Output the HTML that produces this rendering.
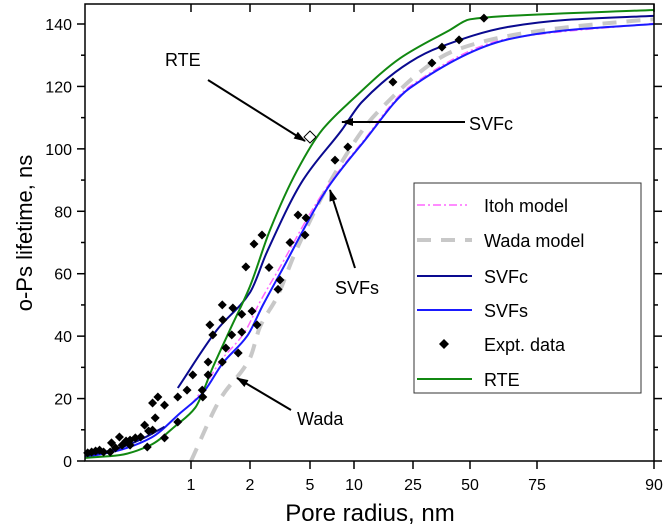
<!DOCTYPE html>
<html><head><meta charset="utf-8"><style>
html,body{margin:0;padding:0;background:#fff}
svg{display:block;font-family:"Liberation Sans",Arial,sans-serif}
</style></head><body>
<svg id="c" width="665" height="528" viewBox="0 0 665 528"></svg>
<script>
const xTickVals=[1,2,5,10,25,50,75,90];
const xTickLabels=["1","2","5","10","25","50","75","90"];
const yTickVals=[0,20,40,60,80,100,120,140];
const rteR=[0.2,0.46,0.69,0.89,1.07,1.37,1.66,2,3,4.35,6.36,9.9,21.7,41,50,62,90];
const rteT=[1,1.9,5,11.5,17,30,42,56,74,93,106,116,129,138,141.5,142.5,144.5];
const svfcR=[0.9,1.44,2,2.85,4.65,8.6,12,24.2,36.8,63.8,78.8,90];
const svfcT=[23.4,42,54,67,90,106,115,127.8,132.6,139,141.3,142.6];
const svfcLowR=[0.2,0.45,0.65,0.8];
const svfcLowT=[1.5,4,7.5,11];
const svfsR=[0.2,0.46,0.7,0.92,1.2,1.54,1.95,2.65,3.5,6.9,12.3,24.2,63.8,78.8,90];
const svfsT=[1.2,3.5,7.5,15.4,21.8,31.4,40,50,60,87,102,119.5,135,138,140];
const itohR=[1,1.2,1.5,1.9,2.5,3.4,6.5,12,24.2,63.8,90];
const itohT=[18,23,32,41,51,61,86,102,120,135.2,140.2];
const wadaR=[1,1.5,2,2.5,3.35,4.25,7.6,15.8,44,73.5,87.3,90];
const wadaT=[0,20,33,43,52.5,66.6,91,111.5,131.7,137.5,141,141.5];
const exR=[0.22,0.25,0.28,0.31,0.34,0.39,0.40,0.43,0.46,0.48,0.51,0.54,0.54,0.58,0.62,0.65,0.67,0.68,0.71,0.71,0.73,0.75,0.80,0.80,0.90,0.90,0.97,1.03,1.19,1.20,1.29,1.29,1.32,1.37,1.53,1.54,1.53,1.59,1.69,1.71,1.80,1.86,1.86,1.93,2.2,2.1,2.35,2.6,2.95,3.4,3.5,4.0,4.4,4.8,4.75,7.84,9.3,19.9,33.3,37.7,45.2,55.2];
const exT=[2.6,2.9,3.2,3.5,2.9,2.9,5.8,4.2,7.7,5.1,6.4,5.1,6.7,7.4,7.7,11.5,4.5,9.6,9.9,18.6,13.8,20.5,17.9,7.4,20.5,12.5,22.7,27.6,22.7,20.5,31.7,27.6,43.6,40.4,50,45.2,31.7,36.2,40.4,49.0,34.6,47,41.3,62.2,69.5,48,43.6,72.4,62,55,58,70,78.8,77.9,72.4,96.4,100.6,121.4,127.5,132.6,134.9,141.9];
const rteMarkR=[5], rteMarkT=[103.8];

const axV=[0.2,1,2,5,10,25,50,75,90], axP=[85,191,250,310,354,413,470,537,654];
function X(v){for(let i=0;i<axV.length-1;i++){if(v<=axV[i+1]||i==axV.length-2){return axP[i]+(v-axV[i])/(axV[i+1]-axV[i])*(axP[i+1]-axP[i]);}}}
function Y(t){return 461-t*(437/140);}
const svg=document.getElementById('c');const NS='http://www.w3.org/2000/svg';
function el(tag,attrs,parent){const e=document.createElementNS(NS,tag);for(const k in attrs)e.setAttribute(k,attrs[k]);(parent||svg).appendChild(e);return e;}
const clip=el('clipPath',{id:'pc'});el('rect',{x:85,y:4,width:569,height:457},clip);
function mono(pts){const n=pts.length;const d=[],m=new Array(n);for(let i=0;i<n-1;i++)d.push((pts[i+1][1]-pts[i][1])/(pts[i+1][0]-pts[i][0]));
m[0]=d[0];m[n-1]=d[n-2];for(let i=1;i<n-1;i++){m[i]=(d[i-1]*d[i]<=0)?0:2/(1/d[i-1]+1/d[i]);}
let s='M'+pts[0][0].toFixed(1)+','+pts[0][1].toFixed(1);
for(let i=0;i<n-1;i++){const h=pts[i+1][0]-pts[i][0];s+=` C${(pts[i][0]+h/3).toFixed(1)},${(pts[i][1]+m[i]*h/3).toFixed(1)} ${(pts[i+1][0]-h/3).toFixed(1)},${(pts[i+1][1]-m[i+1]*h/3).toFixed(1)} ${pts[i+1][0].toFixed(1)},${pts[i+1][1].toFixed(1)}`;}return s;}
function line(rs,ts,color,w,dash,name){const pts=rs.map((r,i)=>[X(r),Y(ts[i])]);const p=el('path',{d:mono(pts),fill:'none',stroke:color,'stroke-width':w,'clip-path':'url(#pc)'});if(dash)p.setAttribute('stroke-dasharray',dash);

return p;}
line(wadaR,wadaT,'#c8c8c8',4,'14,10','wada-model-line');
line(itohR,itohT,'#ff66ff',1.5,'8,3,2,3','itoh-model-line');
line(svfsR,svfsT,'#1a1aff',2,null,'svfs-line');
line(svfcR,svfcT,'#0a0a90',2,null,'svfc-line');
line(svfcLowR,svfcLowT,'#0a0a90',2,null,'svfc-low-line');
line(rteR,rteT,'#118811',2,null,'rte-line');
exR.forEach((r,i)=>{const x=X(r),y=Y(exT[i]);const p=el('path',{d:`M${x},${y-4.5} L${x+4.5},${y} L${x},${y+4.5} L${x-4.5},${y} Z`,fill:'#000'});

});
rteMarkR.forEach((r,i)=>{const x=X(r),y=Y(rteMarkT[i]);const p=el('path',{d:`M${x},${y-6} L${x+6},${y} L${x},${y+6} L${x-6},${y} Z`,fill:'#fff',stroke:'#000','stroke-width':1});

});
const fr=el('rect',{x:85,y:4,width:569,height:457,fill:'none',stroke:'#000','stroke-width':1.5});

xTickVals.forEach((v,i)=>{const x=X(v);el('line',{x1:x,y1:461,x2:x,y2:469,stroke:'#000','stroke-width':1.5});el('line',{x1:x,y1:4,x2:x,y2:12,stroke:'#000','stroke-width':1.5});
const t=el('text',{x:x,y:490,'font-size':16,'text-anchor':'middle'});t.textContent=xTickLabels[i];
});
yTickVals.forEach(v=>{const y=Y(v);el('line',{x1:77,y1:y,x2:85,y2:y,stroke:'#000','stroke-width':1.5});el('line',{x1:654,y1:y,x2:662,y2:y,stroke:'#000','stroke-width':1.5});
const ym=Y(v+10);if(v<140){el('line',{x1:81,y1:ym,x2:85,y2:ym,stroke:'#000','stroke-width':1.5});el('line',{x1:654,y1:ym,x2:658,y2:ym,stroke:'#000','stroke-width':1.5});}
const t=el('text',{x:72,y:y+6,'font-size':16,'text-anchor':'end'});t.textContent=v;
});
</script>
<svg width="665" height="528" style="position:absolute;left:0;top:0" font-family="Liberation Sans, Arial, sans-serif">
<defs><marker id="ah2" markerWidth="12" markerHeight="8" refX="11" refY="4" orient="auto" markerUnits="userSpaceOnUse"><path d="M0,0 L12,4 L0,8 Z" fill="#000"/></marker></defs>
<text x="370" y="521" font-size="24" text-anchor="middle">Pore radius, nm</text>
<text transform="translate(32,233) rotate(-90)" font-size="22" text-anchor="middle">o-Ps lifetime, ns</text>
<g font-size="18">
<text x="165" y="66">RTE</text>
<line x1="208" y1="80" x2="305" y2="141" stroke="#000" stroke-width="2" marker-end="url(#ah2)"/>
<text x="469" y="130">SVFc</text>
<line x1="465" y1="122" x2="342" y2="122" stroke="#000" stroke-width="2" marker-end="url(#ah2)"/>
<text x="335" y="294">SVFs</text>
<line x1="355" y1="268" x2="330" y2="190" stroke="#000" stroke-width="2" marker-end="url(#ah2)"/>
<text x="297" y="425">Wada</text>
<line x1="291" y1="410" x2="237" y2="378" stroke="#000" stroke-width="2" marker-end="url(#ah2)"/>
</g>
<g>
<rect x="414" y="183" width="227" height="210" fill="#fff" stroke="#333" stroke-width="1"/>
<line x1="417" y1="205" x2="467" y2="205" stroke="#ff66ff" stroke-width="1.5" stroke-dasharray="8,3,2,3"/>
<text x="484" y="212" font-size="18">Itoh model</text>
<line x1="417" y1="240" x2="472" y2="240" stroke="#c8c8c8" stroke-width="4" stroke-dasharray="14,10"/>
<text x="484" y="247" font-size="18">Wada model</text>
<line x1="417" y1="276" x2="472" y2="276" stroke="#0a0a90" stroke-width="2"/>
<text x="484" y="283" font-size="18">SVFc</text>
<line x1="417" y1="310" x2="472" y2="310" stroke="#1a1aff" stroke-width="2"/>
<text x="484" y="317" font-size="18">SVFs</text>
<path d="M444,339 L449,344 L444,349 L439,344 Z" fill="#000"/>
<text x="484" y="351" font-size="18">Expt. data</text>
<line x1="417" y1="379" x2="472" y2="379" stroke="#118811" stroke-width="2"/>
<text x="484" y="386" font-size="18">RTE</text>
</g>
</svg>
</body></html>
